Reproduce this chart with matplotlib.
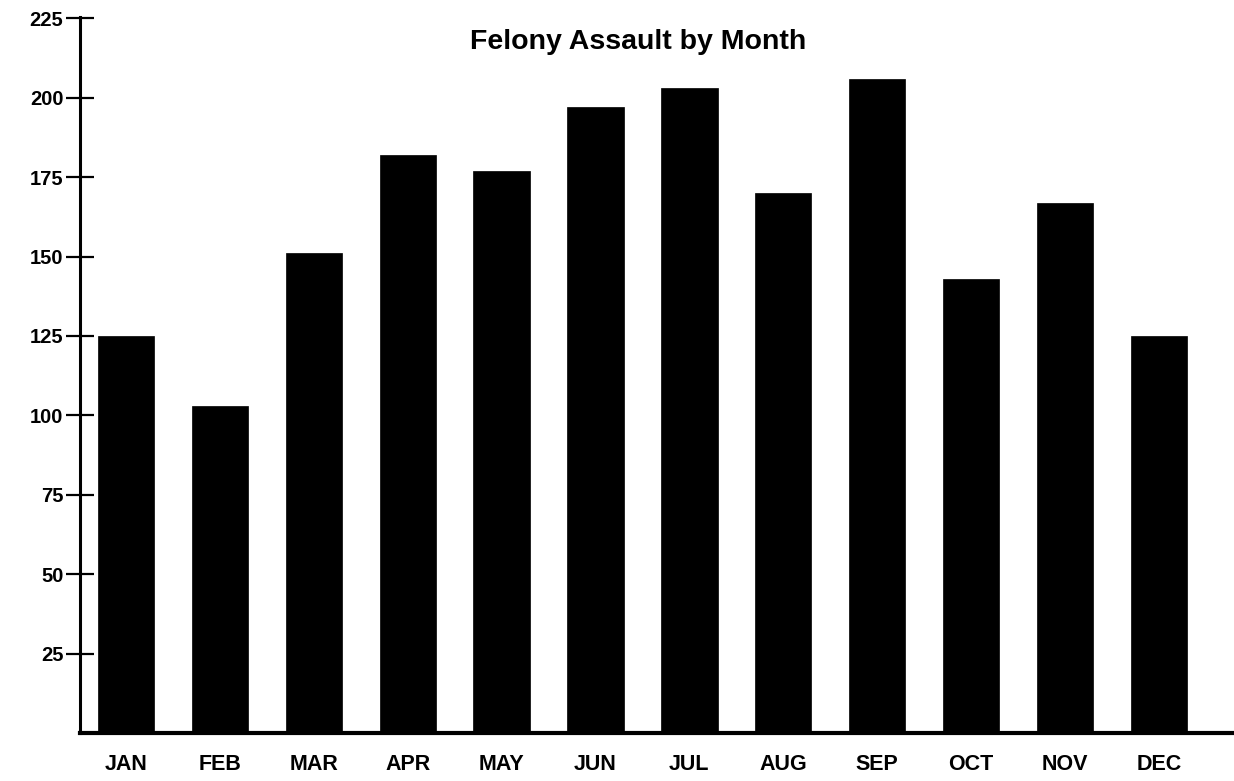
"""Felony assault counts by month, recreated as a plain black bar chart."""
import matplotlib

matplotlib.use("Agg")
import matplotlib.pyplot as plt

plt.rcParams.update({"font.family": ["Liberation Sans", "DejaVu Sans"]})

months = ["JAN", "FEB", "MAR", "APR", "MAY", "JUN", "JUL", "AUG", "SEP", "OCT", "NOV", "DEC"]
assaults = [125, 103, 151, 182, 177, 197, 203, 170, 206, 143, 167, 125]
y_ticks = [25, 50, 75, 100, 125, 150, 175, 200, 225]

fig = plt.figure(figsize=(12.34, 7.81), dpi=100)
ax = fig.add_axes([0.0648, 0.0615, 0.9352, 0.917])

x = list(range(len(months)))
ax.bar(x, assaults, width=0.6, color="black", edgecolor="black", linewidth=0.5)

ax.set_xlim(-0.49, 11.8)
ax.set_ylim(0, 225.5)

ax.set_yticks(y_ticks)
ax.set_yticklabels([str(t) for t in y_ticks], fontsize=14.5, fontweight="bold")
ax.tick_params(axis="y", direction="inout", length=20, width=1.6, pad=2)

ax.set_xticks(x)
ax.set_xticklabels(months, fontsize=15.5, fontweight="bold")
ax.tick_params(axis="x", length=0, pad=15)

for side in ("top", "right"):
    ax.spines[side].set_visible(False)
ax.spines["left"].set_linewidth(2.2)
ax.spines["bottom"].set_linewidth(3.0)

fig.text(0.517, 0.946, "Felony Assault by Month", ha="center", va="center",
         fontsize=20.5, fontweight="bold")

fig.savefig("out.png", dpi=100)
